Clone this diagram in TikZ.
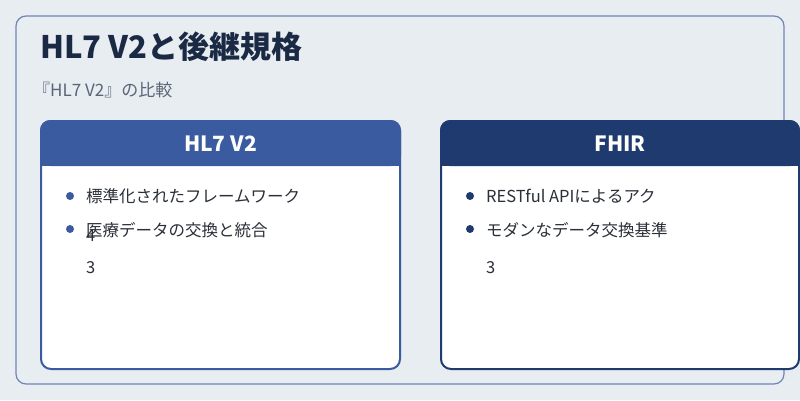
\documentclass[tikz,border=0pt]{standalone}
\usepackage{fontspec}
\setmainfont{Noto Sans CJK JP}
\usetikzlibrary{positioning}
\definecolor{pagebg}{HTML}{E8EDF2}
\definecolor{frameblue}{HTML}{6F86B4}
\definecolor{titlenavy}{HTML}{1B2A44}
\definecolor{subgray}{HTML}{5A6475}
\definecolor{vtwoblue}{HTML}{3A5BA0}
\definecolor{fhirnavy}{HTML}{1F3A6E}
\definecolor{bodytext}{HTML}{2A2F38}
\tikzset{
  card/.style={draw=#1, line width=2pt, fill=white, rounded corners=10pt},
  cardhead/.style={fill=#1, rounded corners=10pt},
  headtext/.style={text=white, font=\bfseries\fontsize{21}{25}\selectfont},
  item/.style={anchor=west, text=bodytext, inner sep=0pt, font=\fontsize{16.5}{20}\selectfont},
  dot/.style={circle, fill=#1, inner sep=0pt, minimum size=8pt}
}
\begin{document}
\begin{tikzpicture}[x=1pt,y=-1pt]
    % page
    \useasboundingbox[fill=pagebg] (0,0) rectangle (800,400);
    \draw[frameblue, line width=1.2pt, rounded corners=10pt] (16,16) rectangle (784,384);

    % heading
    \node[anchor=west, text=titlenavy, inner sep=0pt, font=\bfseries\fontsize{31}{36}\selectfont] (title) at (40,47) {HL7 V2と後継規格};
    \node[anchor=west, text=subgray, inner sep=0pt, font=\fontsize{17}{20}\selectfont] (sub) at (33,90) {『HL7 V2』の比較};

    % left card
    \draw[card=vtwoblue] (41,121) rectangle (400,369);
    \fill[cardhead=vtwoblue] (40,120) rectangle (401,166);
    \fill[vtwoblue] (40,150) rectangle (401,166);
    \node[headtext] (lhead) at (220.5,144) {HL7 V2};
    \node[dot=vtwoblue] (ldot1) at (70,196) {};
    \node[item] (litem1) at (86,196) {標準化されたフレームワーク};
    \node[dot=vtwoblue] (ldot2) at (70,229) {};
    \node[item] (litem2) at (86,230) {医療データの交換と統合};
    \node[item] (lnum1) at (86,236) {4};
    \node[item] (lnum2) at (86,268) {3};

    % right card
    \draw[card=fhirnavy] (441,121) rectangle (799,369);
    \fill[cardhead=fhirnavy] (440,120) rectangle (800,166);
    \fill[fhirnavy] (440,150) rectangle (800,166);
    \node[headtext] (rhead) at (620,144) {FHIR};
    \node[dot=fhirnavy] (rdot1) at (470,196) {};
    \node[item] (ritem1) at (486,196) {RESTful APIによるアク};
    \node[dot=fhirnavy] (rdot2) at (470,229) {};
    \node[item] (ritem2) at (486,230) {モダンなデータ交換基準};
    \node[item] (rnum) at (486,268) {3};
\end{tikzpicture}
\end{document}
